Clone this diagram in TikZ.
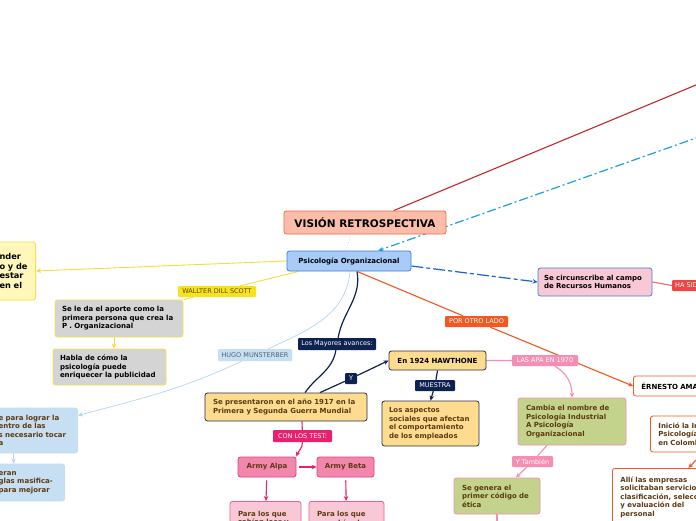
\documentclass[tikz,border=0pt]{standalone}
\usepackage{fontspec}
\newfontfamily\mapfont{DejaVu Sans}
\usetikzlibrary{arrows.meta,backgrounds}
\definecolor{titleFill}{HTML}{F9BDA9}
\definecolor{titleDraw}{HTML}{F26A46}
\definecolor{psicFill}{HTML}{A9CBF7}
\definecolor{psicDraw}{HTML}{3E7FDD}
\definecolor{yelFill}{HTML}{FFF8BA}
\definecolor{yelDraw}{HTML}{F6E04C}
\definecolor{yelLine}{HTML}{F4DD3A}
\definecolor{scottFill}{HTML}{F8E21C}
\definecolor{scottText}{HTML}{5C4F00}
\definecolor{grayFill}{HTML}{D4D4D4}
\definecolor{hugoFill}{HTML}{C7DFF2}
\definecolor{hugoText}{HTML}{51627A}
\definecolor{hugoLine}{HTML}{B5D6EF}
\definecolor{navy}{HTML}{0E2251}
\definecolor{orangeFill}{HTML}{FDDC8F}
\definecolor{orangeDraw}{HTML}{28324D}
\definecolor{brownText}{HTML}{5C3A12}
\definecolor{testRed}{HTML}{E8206D}
\definecolor{armyFill}{HTML}{F386AD}
\definecolor{armyDraw}{HTML}{E3407A}
\definecolor{paraFill}{HTML}{F9C8D6}
\definecolor{paraDraw}{HTML}{EE6093}
\definecolor{porOrange}{HTML}{F2581F}
\definecolor{apaPink}{HTML}{F48EB2}
\definecolor{greenFill}{HTML}{C4D38B}
\definecolor{hasRed}{HTML}{EF4545}
\definecolor{hasLine}{HTML}{F06B6B}
\definecolor{darkRed}{HTML}{C1292E}
\definecolor{skyBlue}{HTML}{1AA1E3}
\definecolor{dashBlue}{HTML}{1664D6}
\tikzset{
	mapbox/.style={rounded corners=2.5pt, line width=0.8pt, font=\mybodyfont, align=left, inner ysep=2pt},
	titlebox/.style={mapbox, fill=titleFill, draw=titleDraw, font=\mytitlefont, align=center},
	psicbox/.style={mapbox, fill=psicFill, draw=psicDraw, align=center},
	yellowbox/.style={mapbox, fill=yelFill, draw=yelDraw, font=\mybigfont},
	graybox/.style={mapbox, fill=grayFill, draw=yelDraw},
	bluebox/.style={mapbox, fill=hugoFill, draw=hugoFill, text=brownText},
	orangebox/.style={mapbox, fill=orangeFill, draw=orangeDraw, text=brownText},
	armybox/.style={mapbox, fill=armyFill, draw=armyDraw, text=brownText, align=center},
	parabox/.style={mapbox, fill=paraFill, draw=paraDraw, text=brownText},
	circbox/.style={mapbox, fill=paraFill, draw=psicDraw},
	ernbox/.style={mapbox, fill=white, draw=porOrange, text=brownText},
	greenbox/.style={mapbox, fill=greenFill, draw=apaPink, text=brownText},
	labelbox/.style={rounded corners=1pt, inner xsep=2pt, inner ysep=1pt, font=\mylabelfont, text=white},
	mapArrow/.style={-{Stealth[length=5pt,width=4.5pt]}},
	redline/.style={draw=darkRed, line width=1.1pt},
	skyline/.style={draw=skyBlue, line width=1.2pt, dash pattern=on 9pt off 3pt on 2pt off 3pt},
	dashline/.style={draw=dashBlue, line width=1.2pt, dash pattern=on 12pt off 3pt on 4pt off 3pt},
	yline/.style={draw=yelLine, line width=0.9pt},
	hugoline/.style={draw=hugoLine, line width=0.7pt},
	navyline/.style={draw=navy, line width=1.2pt},
	testline/.style={draw=testRed, line width=1.1pt},
	porline/.style={draw=porOrange, line width=1.1pt},
	apaline/.style={draw=apaPink, line width=1.1pt},
	hasline/.style={draw=hasLine, line width=1.1pt},
}
\begin{document}
\begin{tikzpicture}[x=1pt,y=-1pt]
			\newcommand{\mybodyfont}{\mapfont\bfseries\fontsize{7}{8.5}\selectfont}
			\newcommand{\mybigfont}{\mapfont\bfseries\fontsize{8.2}{9.6}\selectfont}
			\newcommand{\mytitlefont}{\mapfont\bfseries\fontsize{10.5}{12}\selectfont}
			\newcommand{\mylabelfont}{\mapfont\fontsize{6.5}{7}\selectfont}
			\useasboundingbox (0,0) rectangle (696,520);
			\begin{pgfonlayer}{background}
			\fill [white] (0,0) rectangle (696,520);
			\end{pgfonlayer}
			%Central topic
			\coordinate (centerTitle) at (365,222.5);
			\node [titlebox, minimum width=162pt, minimum height=23pt] (title) at (centerTitle) {VISIÓN RETROSPECTIVA};
			\coordinate (centerPsic) at (349,261);
			\node [psicbox, minimum width=124pt, minimum height=20pt] (psic) at (centerPsic) {Psicología Organizacional};
			%Left side
			\node [yellowbox, anchor=east, text width=30pt, inner xsep=6pt, minimum height=58pt] (yellowLeft) at (36,271) {nder\\o y de\\estar\\en el};
			\coordinate (centerScott) at (217,291.5);
			\node [labelbox, fill=scottFill, text=scottText, minimum width=78pt, minimum height=11pt] (scott) at (centerScott) {WALLTER DILL SCOTT};
			\node [graybox, text width=114pt, inner xsep=7pt, minimum height=37pt] (grayScott) at (119,318.5) {Se le da el aporte como la\\primera persona que crea la\\P . Organizacional};
			\node [graybox, text width=99pt, inner xsep=7pt, minimum height=36pt] (grayPub) at (109.5,367) {Habla de cómo la\\psicología puede\\enriquecer la publicidad};
			\coordinate (centerHugo) at (255,355);
			\node [labelbox, fill=hugoFill, text=hugoText, minimum width=74pt, minimum height=12pt] (hugo) at (centerHugo) {HUGO MUNSTERBER};
			\node [bluebox, anchor=east, text width=72pt, inner xsep=7pt, minimum height=45pt] (blueHugo) at (78,430.5) {e para lograr la\\entro de las\\s necesario tocar\\a};
			\node [bluebox, anchor=east, text width=59pt, inner xsep=7pt, minimum height=37pt] (blueMasif) at (65,482.5) {eran\\glas masifica-\\para mejorar};
			%Middle
			\coordinate (centerMayores) at (337,344);
			\node [labelbox, fill=navy, minimum width=78pt, minimum height=12pt] (mayores) at (centerMayores) {Los Mayores avances:};
			\node [orangebox, text width=146pt, inner xsep=8pt, minimum height=28pt] (guerra) at (286,407) {Se presentaron en el año 1917 en la\\Primera y Segunda Guerra Mundial};
			\coordinate (centerY) at (351,378.5);
			\node [labelbox, fill=navy, minimum width=12pt, minimum height=11pt] (yLabel) at (centerY) {Y};
			\node [orangebox, text=black, align=center, minimum width=97pt, minimum height=19pt] (hawthone) at (437.5,360.5) {En 1924 HAWTHONE};
			\coordinate (centerMuestra) at (435,385.5);
			\node [labelbox, fill=navy, minimum width=40pt, minimum height=11pt] (muestra) at (centerMuestra) {MUESTRA};
			\node [orangebox, text width=83pt, inner xsep=7pt, minimum height=45pt] (aspectos) at (430.5,423.5) {Los aspectos\\sociales que afectan\\el comportamiento\\de los empleados};
			\coordinate (centerTest) at (302.5,436);
			\node [labelbox, fill=testRed, minimum width=59pt, minimum height=12pt] (conTest) at (centerTest) {CON LOS TEST:};
			\node [armybox, minimum width=58pt, minimum height=20pt] (alpa) at (267,467) {Army Alpa};
			\node [armybox, minimum width=57pt, minimum height=20pt] (beta) at (345.5,467) {Army Beta};
			\node [parabox, anchor=north, text width=55pt, inner xsep=8pt, minimum height=34pt] (paraLeer) at (265.5,501) {Para los que\\sabían leer y};
			\node [parabox, anchor=north, text width=59pt, inner xsep=8pt, minimum height=34pt] (paraNoLeer) at (346.5,501) {Para los que\\no sabían leer};
			%Right side
			\node [circbox, text width=102pt, inner xsep=6pt, minimum height=28pt] (circ) at (595,282) {Se circunscribe al campo\\de Recursos Humanos};
			\node [labelbox, fill=hasRed, anchor=west, inner xsep=3pt, minimum height=11pt] (haSid) at (672,285.5) {HA SID};
			\coordinate (centerPor) at (476.5,321.5);
			\node [labelbox, fill=porOrange, minimum width=63pt, minimum height=11pt] (porOtro) at (centerPor) {POR OTRO LADO};
			\node [ernbox, text=black, anchor=west, text width=80pt, inner xsep=8pt, minimum height=20pt] (ernesto) at (633,386) {ÉRNESTO AMA};
			\node [ernbox, anchor=west, text width=70pt, inner xsep=8pt, minimum height=36pt] (inicio) at (650,434) {Inició la In\\Psicología\\en Colomb};
			\node [ernbox, anchor=north west, text width=100pt, inner xsep=8pt, minimum height=58pt] (alli) at (612,468) {Allí las empresas\\solicitaban servicio\\clasificación, selecc\\y evaluación del\\personal};
			\coordinate (centerApa) at (545,360.5);
			\node [labelbox, fill=apaPink, minimum width=66pt, minimum height=11pt] (apa) at (centerApa) {LAS APA EN 1970};
			\node [greenbox, text width=92pt, inner xsep=8pt, minimum height=47pt] (cambia) at (572,421.5) {Cambia el nombre de\\Psicología Industrial\\A Psicología\\Organizacional};
			\coordinate (centerTambien) at (532.5,461.5);
			\node [labelbox, fill=apaPink, minimum width=41pt, minimum height=11pt] (tambien) at (centerTambien) {Y También};
			\node [greenbox, text width=70pt, inner xsep=8pt, minimum height=36pt] (genera) at (497,496) {Se genera el\\primer código de\\ética};
			%Connectors below the nodes
			\begin{pgfonlayer}{background}
			\coordinate (redEnd) at (720,75);
			\coordinate (skyEnd) at (720,129.5);
			\coordinate (generaEnd) at (497,530);
			\draw [redline] (title) -- (redEnd);
			\draw [skyline, mapArrow] (skyEnd) -- (psic);
			\draw [hugoline, dotted] ([xshift=-14pt]title.south) -- ([xshift=-3pt]psic.north);
			%Walter Dill Scott
			\draw [yline, mapArrow] (psic.west) -- (yellowLeft.east);
			\draw [yline] ([xshift=12pt]psic.south west) -- (scott) -- (grayScott.north east);
			\draw [yline, mapArrow] ([xshift=-5pt]grayScott.south) -- ([xshift=4.5pt]grayPub.north);
			%Hugo Munsterber
			\draw [hugoline, mapArrow] ([xshift=1pt]psic.south) to[out=-95,in=25] (hugo) to[out=205,in=15] ([yshift=15pt]blueHugo.east);
			\draw [hugoline, mapArrow] ([xshift=-21pt]blueHugo.south) -- ([xshift=-14.5pt]blueMasif.north);
			%Mayores avances
			\draw [navyline] ([xshift=8pt]psic.south) to[out=-80,in=80] (mayores) to[out=260,in=55] ([xshift=19pt]guerra.north);
			\draw [navyline, mapArrow] ([xshift=34pt]guerra.north) -- (yLabel) -- (hawthone.west);
			\draw [navyline, mapArrow] (hawthone.south) -- (muestra) -- (aspectos.north);
			\draw [testline, mapArrow] ([xshift=16pt]guerra.south) -- (conTest) to[out=-90,in=70] (alpa.north east);
			\draw [testline, mapArrow, shorten <=3pt] (alpa) -- (beta);
			\draw [testline, mapArrow, shorten <=3pt] (alpa) -- (paraLeer);
			\draw [testline, mapArrow, shorten <=3pt] (beta) -- (paraNoLeer);
			%Right branches
			\draw [porline, mapArrow] ([xshift=8pt]psic.south) -- (porOtro) -- (ernesto.west);
			\draw [porline, mapArrow] ([xshift=10pt]inicio.south) -- ([xshift=18pt]alli.north);
			\draw [dashline, mapArrow] ([yshift=-5pt]psic.east) -- (circ.west);
			\draw [hasline] (circ.east) -- (haSid.west);
			\draw [apaline, mapArrow] (hawthone.east) -- (apa) to[out=-30,in=90] (cambia.north);
			\draw [apaline, mapArrow] ([xshift=-25pt]cambia.south) -- (tambien) -- ([xshift=19pt]genera.north);
			\draw [apaline] (genera) -- (generaEnd);
			\end{pgfonlayer}
\end{tikzpicture}
\end{document}
